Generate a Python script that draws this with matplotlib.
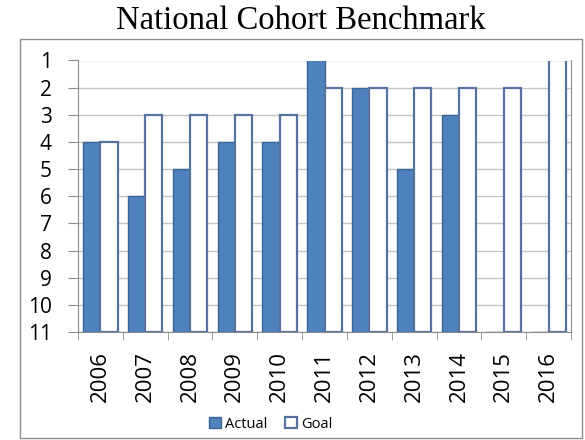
import numpy as np
import matplotlib.pyplot as plt
from matplotlib.patches import Rectangle

years = ['2006', '2007', '2008', '2009', '2010', '2011',
         '2012', '2013', '2014', '2015', '2016']
actual = [4, 6, 5, 4, 4, 1, 2, 5, 3, 11, 11]
goal = [4, 3, 3, 3, 3, 2, 2, 2, 2, 2, 1]
base = 11

fig = plt.figure(figsize=(5.85, 4.4), dpi=100)
fig.patch.set_facecolor('white')

# outer chart frame (title sits above it)
fig.patches.append(Rectangle((20 / 585, 2 / 440), 562 / 585, 399 / 440,
                             transform=fig.transFigure, fill=False,
                             edgecolor='#8c8c8c', linewidth=1.0))
fig.text(0.515, 0.953, 'National Cohort Benchmark', ha='center', va='center',
         family='Liberation Serif', fontsize=23.5)

ax = fig.add_axes([78 / 585, 1 - 332 / 440, 493 / 585, 271.5 / 440])

x = np.arange(len(years))
w = 0.385
a_h = [v - base for v in actual]
g_h = [v - base for v in goal]
ax.bar(x - w / 2, a_h, w, bottom=base, color='#4f81bd',
       edgecolor='#3b6494', linewidth=1.0, label='Actual', zorder=3)
ax.bar(x + w / 2, g_h, w, bottom=base, color='white',
       edgecolor='#56739f', linewidth=1.6, label='Goal', zorder=3)

ax.set_xlim(-0.5, len(years) - 0.5)
ax.set_ylim(11, 1)
ax.set_yticks(range(1, 12))
ax.set_yticklabels([str(i) for i in range(1, 12)], family='Open Sans', fontsize=15)
ax.set_xticks(x)
ax.set_xticklabels(years, rotation=90, family='Open Sans', fontsize=16)
ax.set_xticks(np.arange(-0.5, len(years)), minor=True)
ax.tick_params(axis='x', which='major', length=0, pad=14)
ax.tick_params(axis='x', which='minor', length=6, color='#8c8c8c', direction='out')
ax.tick_params(axis='y', length=7, color='#8c8c8c', pad=12)

ax.grid(axis='y', color='#c4c4c4', linewidth=1.0, zorder=0)
ax.set_axisbelow(True)
for s in ['left', 'bottom', 'right']:
    ax.spines[s].set_color('#8c8c8c')
ax.spines['top'].set_visible(False)

handles, labels = ax.get_legend_handles_labels()
fig.legend(handles, labels, loc='center', bbox_to_anchor=(271 / 585, 16 / 440),
           ncol=2, frameon=False, prop={'family': 'Open Sans', 'size': 10.5},
           handlelength=0.8, handleheight=0.8, handletextpad=0.3,
           columnspacing=1.2)

fig.savefig('out.png', dpi=100)
